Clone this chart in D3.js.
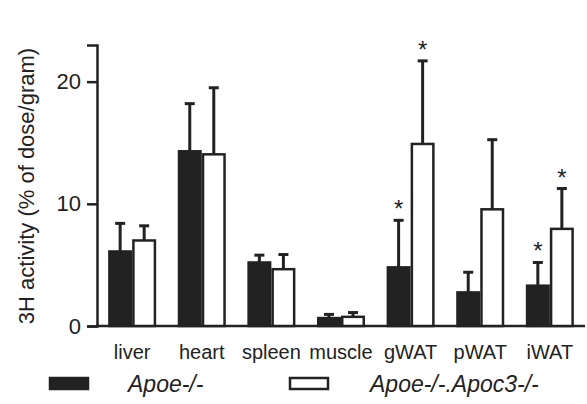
<!DOCTYPE html>
<html>
<head>
<meta charset="utf-8">
<title>3H activity</title>
<script src="https://d3js.org/d3.v7.min.js"></script>
<style>
  body { margin: 0; background: #fff; }
  text { font-family: "Liberation Sans", Arial, sans-serif; fill: #222; }
</style>
</head>
<body>
<svg id="chart" width="587" height="404"></svg>
<script>
// tissues and values (% of dose/gram)
var tissues = ["liver", "heart", "spleen", "muscle", "gWAT", "pWAT", "iWAT"];
var apoeMean = [6.1, 14.3, 5.2, 0.65, 4.8, 2.75, 3.3];
var apoeErr  = [2.3, 3.9, 0.6, 0.3, 3.85, 1.65, 1.9];
var dkoMean  = [7.0, 14.05, 4.65, 0.75, 14.9, 9.55, 7.95];
var dkoErr   = [1.2, 5.45, 1.2, 0.35, 6.8, 5.7, 3.3];
var apoeStar = [false, false, false, false, true, false, true];
var dkoStar  = [false, false, false, false, true, false, true];
var yTicks = [0, 10, 20];
var seriesNames = ["Apoe-/-", "Apoe-/-.Apoc3-/-"];

var svg = d3.select("#chart");

var x = d3.scaleBand()
  .domain(tissues)
  .range([97, 585])
  .paddingInner(0.31)
  .paddingOuter(0.16);

var xSub = d3.scaleBand()
  .domain([0, 1])
  .range([0, x.bandwidth()]);

var y = d3.scaleLinear()
  .domain([0, 23])
  .range([326, 45]);

// y axis
var yAxis = svg.append("g")
  .attr("transform", "translate(97,0)")
  .call(d3.axisLeft(y).tickValues(yTicks).tickSize(10).tickPadding(6));
yAxis.select(".domain").attr("stroke", "#222").attr("stroke-width", 2.5);
yAxis.selectAll(".tick line").attr("stroke", "#222").attr("stroke-width", 2.5);
yAxis.selectAll(".tick text").attr("font-size", 22).attr("fill", "#222")
  .style("font-family", "'Liberation Sans', Arial, sans-serif");

// x baseline
svg.append("line")
  .attr("x1", 96).attr("x2", 585)
  .attr("y1", y(0)).attr("y2", y(0))
  .attr("stroke", "#222").attr("stroke-width", 2.5);

// x labels
svg.append("g").selectAll("text")
  .data(tissues)
  .join("text")
  .attr("x", d => x(d) + x.bandwidth() / 2)
  .attr("y", 359)
  .attr("text-anchor", "middle")
  .attr("font-size", 20)
  .text(d => d);

// y label
svg.append("text")
  .attr("transform", "translate(34,186) rotate(-90)")
  .attr("text-anchor", "middle")
  .attr("font-size", 22)
  .text("3H activity (% of dose/gram)");

var groups = [
  {mean: apoeMean, err: apoeErr, star: apoeStar, fill: "#222"},
  {mean: dkoMean, err: dkoErr, star: dkoStar, fill: "#fff"}
];

groups.forEach(function(g, gi) {
  var layer = svg.append("g");
  tissues.forEach(function(t, i) {
    var bx = x(t) + xSub(gi);
    var bw = xSub.bandwidth();
    var cx = bx + bw / 2;
    var top = y(g.mean[i] + g.err[i]);
    // error bar
    layer.append("line")
      .attr("x1", cx).attr("x2", cx)
      .attr("y1", y(g.mean[i])).attr("y2", top)
      .attr("stroke", "#222").attr("stroke-width", 3);
    layer.append("line")
      .attr("x1", cx - 5).attr("x2", cx + 5)
      .attr("y1", top).attr("y2", top)
      .attr("stroke", "#222").attr("stroke-width", 3);
    // bar
    layer.append("rect")
      .attr("x", bx + 1.25)
      .attr("y", y(g.mean[i]))
      .attr("width", bw - 2.5)
      .attr("height", y(0) - y(g.mean[i]))
      .attr("fill", g.fill)
      .attr("stroke", "#222")
      .attr("stroke-width", 2.5);
    if (g.star[i]) {
      layer.append("text")
        .attr("x", cx)
        .attr("y", top - 3)
        .attr("text-anchor", "middle")
        .attr("font-size", 24)
        .text("*");
    }
  });
});

// legend
var legend = svg.append("g");
var legX = [50, 290];
var legTextX = [128, 370];
seriesNames.forEach(function(name, i) {
  legend.append("rect")
    .attr("x", legX[i]).attr("y", 378)
    .attr("width", 38).attr("height", 11)
    .attr("fill", groups[i].fill)
    .attr("stroke", "#222").attr("stroke-width", 2.5);
  legend.append("text")
    .attr("x", legTextX[i]).attr("y", 392)
    .attr("font-size", 23)
    .attr("font-style", "italic")
    .text(name);
});
</script>
</body>
</html>
